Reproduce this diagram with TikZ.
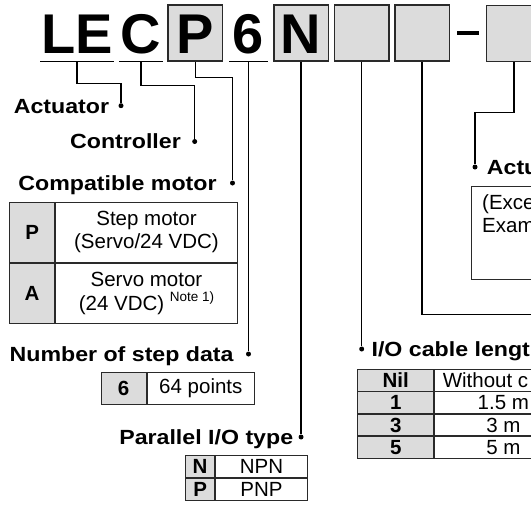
\documentclass[tikz,border=0pt]{standalone}
\usepackage{fontspec}
\setmainfont{Liberation Sans}
\newfontfamily\widesans{Liberation Sans}[FakeStretch=1.13]
\usetikzlibrary{positioning}
\definecolor{keygray}{HTML}{DCDCDC}
\definecolor{rulegray}{HTML}{2A2A2A}
\newcommand\cellfont{\fontsize{20.5}{23.3}\selectfont}
\newcommand\notefont{\fontsize{13.5}{13.5}\selectfont}
\tikzset{
  codebox/.style={draw=rulegray, line width=1.5pt, fill=keygray, minimum width=54.5pt, minimum height=56pt, inner sep=0pt, text height=40pt, text depth=0pt, font=\bfseries\fontsize{56}{56}\selectfont},
  codechar/.style={codebox, draw=none, fill=none},
  uline/.style={line width=1.2pt},
  lead/.style={line width=1.3pt},
  knob/.style={circle, fill=black, inner sep=0pt, minimum size=5pt},
  lbl/.style={font=\widesans\bfseries\fontsize{20.5}{24}\selectfont, inner sep=0pt, text height=14.7pt, text depth=0pt},
  txt/.style={font=\cellfont, inner sep=0pt},
  keycell/.style={draw=rulegray, line width=0.9pt, fill=keygray, inner sep=0pt, font=\bfseries\cellfont, text height=14.7pt, text depth=0pt, anchor=north west},
  valcell/.style={draw=rulegray, line width=0.9pt, fill=white, inner sep=0pt, font=\cellfont, align=center, anchor=north west},
}
\begin{document}
\begin{tikzpicture}[x=1pt,y=-1pt]
  \useasboundingbox (0,0) rectangle (531,515);
  \clip (0,0) rectangle (531,515);
  % part number
  \node[codechar, minimum width=72pt] (le) at (77,33) {LE};
  \node[codechar, minimum width=42pt] (c) at (141,33) {C};
  \node[codebox] (p) at (195.25,33) {P};
  \node[codechar, minimum width=37pt] (six) at (248.5,33) {6};
  \node[codebox] (n) at (301.05,33) {N};
  \node[codebox] (op1) at (361.7,33) {};
  \node[codebox] (op2) at (422.1,33) {};
  \node[codebox] (op3) at (513.85,33.5) {};
  \fill (457,31) rectangle (479,35);
  \foreach \k in {le,c,six} \draw[uline] (\k.south west) -- (\k.south east);
  % dots
  \node[knob] (dA) at (121,105.7) {};
  \node[knob] (dC) at (194.7,141.5) {};
  \node[knob] (dM) at (232.5,183) {};
  \node[knob] (dS) at (248.5,354) {};
  \node[knob] (dI) at (301.05,437) {};
  \node[knob] (dL) at (361.7,349) {};
  \node[knob] (dK) at (475,167) {};
  \coordinate (cut) at (540,314.5);
  % leaders
  \draw[lead] (le.south) -- ++(0,22) -| (dA);
  \draw[lead] (c.south) -- ++(0,24) -| (dC);
  \draw[lead] (p.south) -- ++(0,16) -| (dM);
  \draw[lead] (six.south) -- (dS);
  \draw[lead] (n.south) -- (dI);
  \draw[lead] (op1.south) -- (dL);
  \draw[lead] (op2.south) |- (cut);
  \draw[lead] (op3.south) -- ++(0,50) -| (dK);
  % labels
  \node[lbl, left=9pt of dA] {Actuator};
  \node[lbl, left=11pt of dC] {Controller};
  \node[lbl, left=13pt of dM] {Compatible motor};
  \node[lbl, left=12pt of dS] {Number of step data};
  \node[lbl, left=5pt of dI] {Parallel I/O type};
  \node[lbl, right=7pt of dL] {I/O cable lengt};
  \node[lbl, right=9pt of dK] {Actu};
  % compatible motor
  \node[keycell, minimum width=45.3pt, minimum height=60.3pt] (mP) at (9,201.7) {P};
  \node[valcell, minimum width=181.7pt, minimum height=60.3pt] (mPv) at (mP.north east) {Step motor\\(Servo/24 VDC)};
  \node[keycell, minimum width=45.3pt, minimum height=60.3pt] (mA) at (mP.south west) {A};
  \node[valcell, minimum width=181.7pt, minimum height=60.3pt] (mAv) at (mA.north east) {Servo motor\\(24 VDC) \raisebox{9pt}[0pt][0pt]{\notefont Note 1)}};
  % step data
  \node[keycell, minimum width=45pt, minimum height=31.7pt] (s6) at (100.7,372.3) {6};
  \node[valcell, minimum width=107.6pt, minimum height=31.7pt] (s6v) at (s6.north east) {64 points};
  % parallel I/O
  \node[keycell, minimum width=29.3pt, minimum height=22pt] (iN) at (185,455) {N};
  \node[valcell, minimum width=91.7pt, minimum height=22pt] (iNv) at (iN.north east) {NPN};
  \node[keycell, minimum width=29.3pt, minimum height=22pt] (iP) at (iN.south west) {P};
  \node[valcell, minimum width=91.7pt, minimum height=22pt] (iPv) at (iP.north east) {PNP};
  % I/O cable
  \node[keycell, minimum width=76pt, minimum height=21.5pt] (cNil) at (357.3,369) {Nil};
  \node[valcell, minimum width=137.4pt, minimum height=21.5pt] (cNilv) at (cNil.north east) {};
  \node[keycell, minimum width=76pt, minimum height=21.5pt] (c1) at (cNil.south west) {1};
  \node[valcell, minimum width=137.4pt, minimum height=21.5pt] (c1v) at (c1.north east) {1.5 m};
  \node[keycell, minimum width=76pt, minimum height=21.5pt] (c3) at (c1.south west) {3};
  \node[valcell, minimum width=137.4pt, minimum height=21.5pt] (c3v) at (c3.north east) {3 m};
  \node[keycell, minimum width=76pt, minimum height=21.5pt] (c5) at (c3.south west) {5};
  \node[valcell, minimum width=137.4pt, minimum height=21.5pt] (c5v) at (c5.north east) {5 m};
  \node[txt, anchor=west] at ([xshift=8.4pt]cNil.east) {Without c};
  % actuator box
  \node[draw=rulegray, line width=0.9pt, minimum width=100pt, minimum height=93.5pt, anchor=north west] (act) at (471,185.5) {};
  \node[txt, align=left, anchor=north west] at ([xshift=11pt,yshift=-9pt]act.north west) {(Exce\\Exam};
\end{tikzpicture}
\end{document}
